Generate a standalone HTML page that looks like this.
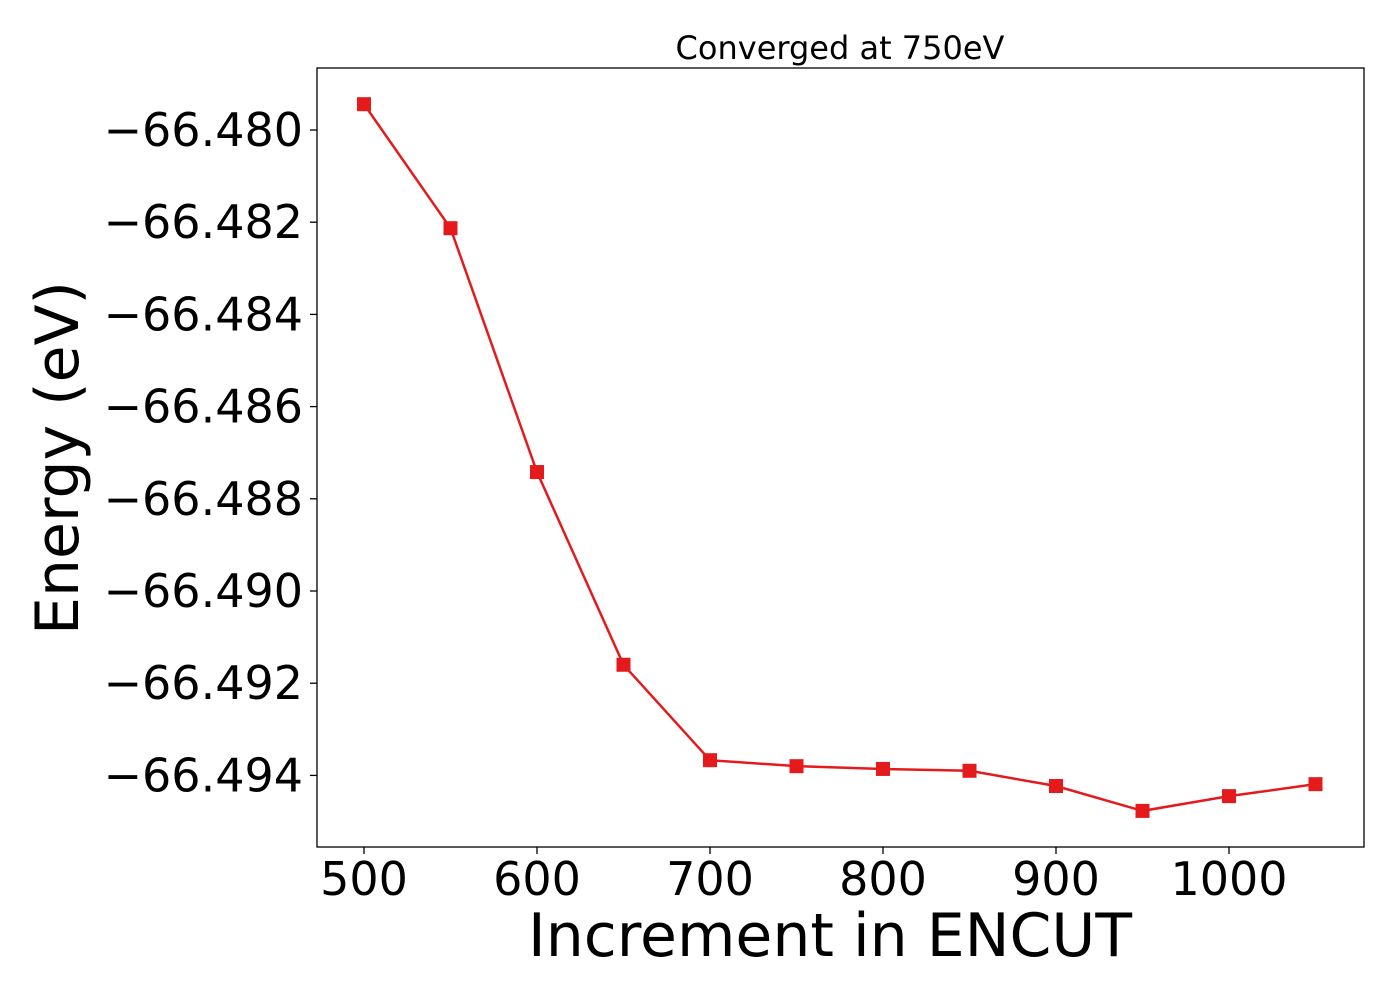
<!DOCTYPE html>
<html><head><meta charset="utf-8"><style>
body{margin:0;background:#fff;}
svg text{font-family:"DejaVu Sans","Liberation Sans",sans-serif;fill:#000;}
</style></head><body>
<svg id="chart" width="1400" height="1000">
<rect x="0" y="0" width="1400" height="1000" fill="#fff"/>
<text x="840" y="59" font-size="32" text-anchor="middle">Converged at 750eV</text>
<text x="830" y="956" font-size="60" text-anchor="middle">Increment in ENCUT</text>
<text transform="translate(78,458) rotate(-90)" font-size="60" text-anchor="middle">Energy (eV)</text>
<g id="xt"></g><g id="yt"></g><g id="series"></g>
<rect x="317" y="68" width="1047" height="779" fill="none" stroke="#000" stroke-width="1.3"/>
</svg>
<script>
const xValues=[500,550,600,650,700,750,800,850,900,950,1000,1050];
const energies=[-66.47944,-66.48213,-66.48742,-66.4916,-66.49367,-66.4938,-66.49386,-66.4939,-66.49423,-66.49477,-66.49445,-66.49419];
const xTicks=[500,600,700,800,900,1000];
const yTicks=[-66.480,-66.482,-66.484,-66.486,-66.488,-66.490,-66.492,-66.494];
const NS="http://www.w3.org/2000/svg";
function sx(v){return 364+(v-500)*1.73;}
function sy(v){return 130+(-66.480-v)*46100;}
function mk(t,a,p){const e=document.createElementNS(NS,t);for(const k in a)e.setAttribute(k,a[k]);p.appendChild(e);return e;}
const xt=document.getElementById('xt'),yt=document.getElementById('yt'),sg=document.getElementById('series');
xTicks.forEach(v=>{
const l=mk('line',{x1:sx(v),x2:sx(v),y1:847,y2:854,stroke:'#000','stroke-width':1.3},xt);


const t=mk('text',{x:sx(v),y:895,'font-size':46,'text-anchor':'middle'},xt);t.textContent=v;


});
yTicks.forEach(v=>{
const l=mk('line',{x1:310,x2:317,y1:sy(v),y2:sy(v),stroke:'#000','stroke-width':1.3},yt);


const t=mk('text',{x:303,y:sy(v)+16,'font-size':46,'text-anchor':'end'},yt);t.textContent='\u2212'+Math.abs(v).toFixed(3);


});
const pl=mk('polyline',{points:xValues.map((x,i)=>sx(x)+','+sy(energies[i])).join(' '),fill:'none',stroke:'#e41a1c','stroke-width':2.5},sg);


xValues.forEach((x,i)=>{
const r=mk('rect',{x:sx(x)-7,y:sy(energies[i])-7,width:14,height:14,fill:'#e41a1c'},sg);


});
</script>
</body></html>
